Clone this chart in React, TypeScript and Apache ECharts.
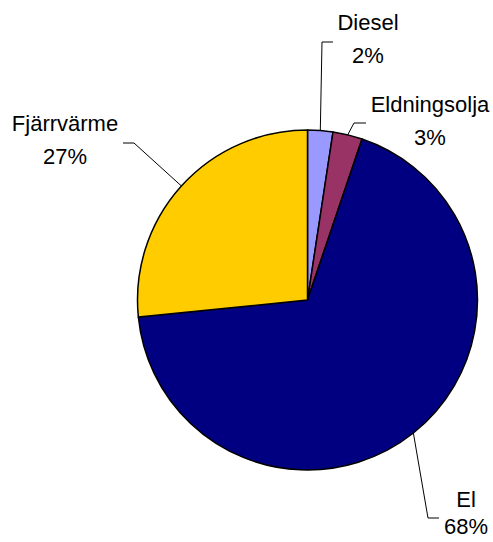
import React, { useEffect, useRef } from "react";
import * as echarts from "echarts";

const categories = ["Diesel", "Eldningsolja", "El", "Fjärrvärme"];
const values = [2.4, 2.8, 68.2, 26.6];
const colors = ["#9999FF", "#993366", "#000080", "#FFCC00"];

// label layout: anchor of label block, line height, elbow and end of leader line
const labelPos = [
  { x: 368, y: 39, lh: 33, elbow: [322, 42], end: [333, 42] },
  { x: 430, y: 121, lh: 33, elbow: [354, 123], end: [366, 123] },
  { x: 466, y: 513, lh: 27, elbow: [428, 518], end: [439, 518] },
  { x: 65, y: 140, lh: 33, elbow: [134, 143], end: [123, 143] },
];

export default function App() {
  const ref = useRef<HTMLDivElement>(null);
  useEffect(() => {
    if (!ref.current) return;
    const chart = echarts.init(ref.current, undefined, { renderer: "svg" });
    chart.setOption({
      animation: false,
      backgroundColor: "#ffffff",
      series: [
        {
          type: "pie",
          center: [307.5, 300],
          radius: 170,
          startAngle: 90,
          clockwise: true,
          avoidLabelOverlap: false,
          data: categories.map((c, i) => ({
            name: c,
            value: values[i],
            itemStyle: { color: colors[i] },
            label: { lineHeight: labelPos[i].lh },
          })),
          itemStyle: { borderColor: "#000", borderWidth: 1.5 },
          label: {
            show: true,
            position: "outside",
            formatter: (p: any) => `${p.name}\n${Math.round(p.percent)}%`,
            fontFamily: "Liberation Sans, Arial, sans-serif",
            fontSize: 22,
            lineHeight: 33,
            color: "#000",
            align: "center",
          },
          labelLine: {
            show: true,
            lineStyle: { color: "#000", width: 1 },
          },
          labelLayout: (params: any) => {
            const lp = labelPos[params.dataIndex];
            const start = params.labelLinePoints
              ? params.labelLinePoints[0]
              : lp.elbow;
            return {
              x: lp.x,
              y: lp.y,
              align: "center",
              verticalAlign: "middle",
              labelLinePoints: [start, lp.elbow, lp.end],
            };
          },
          emphasis: { disabled: true },
        },
      ],
    });
    return () => chart.dispose();
  }, []);
  return (
    <div
      ref={ref}
      style={{ position: "absolute", left: 0, top: 0, width: 493, height: 542 }}
    />
  );
}
